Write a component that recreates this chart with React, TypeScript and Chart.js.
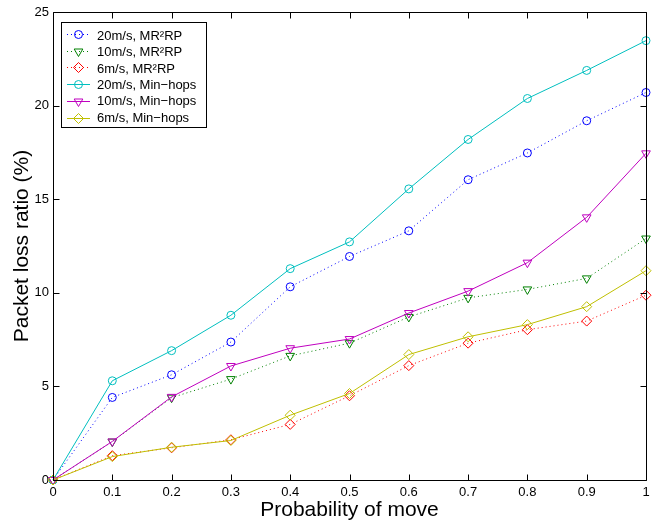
import React, { useEffect, useRef } from "react";
import { Chart, registerables } from "chart.js";

Chart.register(...registerables);

const xValues = [0, 0.1, 0.2, 0.3, 0.4, 0.5, 0.6, 0.7, 0.8, 0.9, 1];
const xTickLabels = ["0", "0.1", "0.2", "0.3", "0.4", "0.5", "0.6", "0.7", "0.8", "0.9", "1"];
const yTickValues = [0, 5, 10, 15, 20, 25];

const mr2rp20 = [0, 4.41, 5.62, 7.37, 10.32, 11.94, 13.31, 16.04, 17.47, 19.19, 20.7];
const mr2rp10 = [0, 2.05, 4.4, 5.39, 6.63, 7.31, 8.71, 9.73, 10.18, 10.77, 12.9];
const mr2rp6 = [0, 1.3, 1.72, 2.15, 2.97, 4.5, 6.11, 7.31, 8.03, 8.49, 9.87];
const minhops20 = [0, 5.3, 6.91, 8.8, 11.29, 12.72, 15.55, 18.19, 20.38, 21.88, 23.47];
const minhops10 = [0, 2.06, 4.44, 6.09, 7.04, 7.53, 8.92, 10.09, 11.61, 14.03, 17.45];
const minhops6 = [0, 1.25, 1.75, 2.11, 3.46, 4.62, 6.7, 7.65, 8.3, 9.26, 11.18];

const seriesLabels = [
  "20m/s, MR²RP",
  "10m/s, MR²RP",
  "6m/s, MR²RP",
  "20m/s, Min−hops",
  "10m/s, Min−hops",
  "6m/s, Min−hops",
];
const seriesValues = [mr2rp20, mr2rp10, mr2rp6, minhops20, minhops10, minhops6];
const seriesColors = [
  "rgb(0,0,255)",
  "rgb(0,128,0)",
  "rgb(255,0,0)",
  "rgb(0,191,191)",
  "rgb(191,0,191)",
  "rgb(191,191,0)",
];
const seriesMarkers = ["circle", "triangle", "diamond", "circle", "triangle", "diamond"];
const seriesDotted = [true, true, true, false, false, false];

const FONT = "'Liberation Sans', Arial, Helvetica, sans-serif";

function drawMarker(ctx: CanvasRenderingContext2D, kind: string, x: number, y: number, color: string) {
  ctx.save();
  ctx.strokeStyle = color;
  ctx.lineWidth = 1;
  ctx.setLineDash([]);
  ctx.beginPath();
  if (kind === "circle") {
    ctx.arc(x, y, 4, 0, Math.PI * 2);
  } else if (kind === "triangle") {
    const r = 5;
    ctx.moveTo(x, y + r);
    ctx.lineTo(x + r * Math.sin((2 * Math.PI) / 3), y - r * 0.5);
    ctx.lineTo(x - r * Math.sin((2 * Math.PI) / 3), y - r * 0.5);
    ctx.closePath();
  } else {
    const r = 5;
    ctx.moveTo(x, y - r);
    ctx.lineTo(x + r, y);
    ctx.lineTo(x, y + r);
    ctx.lineTo(x - r, y);
    ctx.closePath();
  }
  ctx.stroke();
  ctx.restore();
}

const framePlugin = {
  id: "frame",
  afterDraw(chart: any) {
    const ctx: CanvasRenderingContext2D = chart.ctx;
    const { left, right, top, bottom } = chart.chartArea;
    const xs = chart.scales.x;
    const ys = chart.scales.y;
    ctx.save();
    ctx.strokeStyle = "#000";
    ctx.lineWidth = 1;
    ctx.setLineDash([]);
    const L = Math.round(left) + 0.5;
    const R = Math.round(right) + 0.5;
    const T = Math.round(top) + 0.5;
    const B = Math.round(bottom) + 0.5;
    ctx.beginPath();
    ctx.rect(L, T, R - L, B - T);
    ctx.stroke();
    const tl = 6;
    ctx.beginPath();
    xValues.forEach((v) => {
      const px = Math.round(xs.getPixelForValue(v)) + 0.5;
      ctx.moveTo(px, B);
      ctx.lineTo(px, B - tl);
      ctx.moveTo(px, T);
      ctx.lineTo(px, T + tl);
    });
    yTickValues.forEach((v) => {
      const py = Math.round(ys.getPixelForValue(v)) + 0.5;
      ctx.moveTo(L, py);
      ctx.lineTo(L + tl, py);
      ctx.moveTo(R, py);
      ctx.lineTo(R - tl, py);
    });
    ctx.stroke();

    // legend
    const bx = 61.5, by = 22.5, bw = 145, bh = 105;
    ctx.fillStyle = "#fff";
    ctx.fillRect(bx, by, bw, bh);
    ctx.strokeStyle = "#000";
    ctx.strokeRect(bx, by, bw, bh);
    ctx.font = `13px ${FONT}`;
    ctx.textBaseline = "middle";
    ctx.textAlign = "left";
    seriesLabels.forEach((label, i) => {
      const cy = 34 + i * 16.7;
      const color = seriesColors[i];
      ctx.save();
      ctx.strokeStyle = color;
      ctx.lineWidth = 1;
      ctx.setLineDash(seriesDotted[i] ? [1, 3] : []);
      ctx.beginPath();
      ctx.moveTo(67, Math.round(cy) + 0.5);
      ctx.lineTo(90, Math.round(cy) + 0.5);
      ctx.stroke();
      ctx.restore();
      drawMarker(ctx, seriesMarkers[i], 78.5, Math.round(cy) + 0.5, color);
      ctx.fillStyle = "#000";
      ctx.fillText(label, 97, cy + (seriesDotted[i] ? 2 : 1));
    });
    ctx.restore();
  },
};

export default function App() {
  const ref = useRef<HTMLCanvasElement | null>(null);
  useEffect(() => {
    if (!ref.current) return;
    const datasets = seriesValues.map((vals, i) => ({
      label: seriesLabels[i],
      data: vals.map((y, j) => ({ x: xValues[j], y })),
      borderColor: seriesColors[i],
      backgroundColor: "rgba(0,0,0,0)",
      borderWidth: 1,
      borderDash: seriesDotted[i] ? [1, 3] : [],
      pointStyle: seriesMarkers[i] === "circle" ? "circle" : seriesMarkers[i] === "triangle" ? "triangle" : "rectRot",
      pointRotation: seriesMarkers[i] === "triangle" ? 180 : 0,
      pointRadius: seriesMarkers[i] === "circle" ? 4 : 5,
      pointBorderColor: seriesColors[i],
      pointBackgroundColor: "rgba(0,0,0,0)",
      pointBorderWidth: 1,
      tension: 0,
      fill: false,
      clip: false as any,
      order: 6 - i,
    }));
    const chart = new Chart(ref.current, {
      type: "line",
      data: { datasets },
      options: {
        animation: false,
        responsive: false,
        devicePixelRatio: 1,
        layout: { padding: { left: 0, right: 13, top: 12, bottom: 0 } },
        plugins: { legend: { display: false }, tooltip: { enabled: false } },
        scales: {
          x: {
            type: "linear",
            min: 0,
            max: 1,
            grid: { display: false, drawTicks: false },
            border: { display: false },
            ticks: {
              stepSize: 0.1,
              padding: 5,
              color: "#000",
              font: { family: FONT, size: 13 },
              maxRotation: 0,
              autoSkip: false,
              callback: (v: any) => {
                const idx = Math.round(Number(v) * 10);
                return xTickLabels[idx] ?? "";
              },
            },
            title: {
              display: true,
              text: "Probability of move",
              color: "#000",
              font: { family: FONT, size: 21 },
              padding: { top: 0, bottom: 1 },
            },
            afterFit: (s: any) => {
              s.height = 44;
            },
          },
          y: {
            type: "linear",
            min: 0,
            max: 25,
            grid: { display: false, drawTicks: false },
            border: { display: false },
            ticks: {
              stepSize: 5,
              padding: 4,
              color: "#000",
              font: { family: FONT, size: 13 },
              callback: (v: any) => String(v),
            },
            title: {
              display: true,
              text: "Packet loss ratio (%)",
              color: "#000",
              font: { family: FONT, size: 21 },
              padding: { top: 10, bottom: 0 },
            },
            afterFit: (s: any) => {
              s.width = 53;
            },
          },
        },
      },
      plugins: [framePlugin],
    });
    return () => chart.destroy();
  }, []);
  return (
    <div style={{ position: "fixed", left: 0, top: 0, width: 659, height: 524, background: "#fff" }}>
      <canvas ref={ref} width={659} height={524} style={{ display: "block" }} />
    </div>
  );
}
